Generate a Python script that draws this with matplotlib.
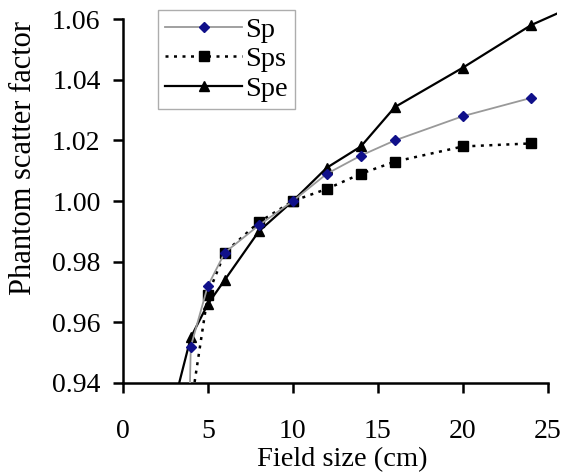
import numpy as np
import matplotlib
matplotlib.use('Agg')
import matplotlib.pyplot as plt

plt.rcParams['font.family'] = ['Liberation Serif', 'DejaVu Serif']

# field sizes (cm) and phantom scatter factors
# first / last entries fall outside the visible axes (lines run off the plot)
sp_x = [3, 4, 5, 6, 8, 10, 12, 14, 16, 20, 24]
sp_y = [0.700, 0.952, 0.972, 0.983, 0.992, 1.000, 1.009, 1.015, 1.020, 1.028, 1.034]

sps_x = [4, 5, 6, 8, 10, 12, 14, 16, 20, 24]
sps_y = [0.932, 0.969, 0.983, 0.993, 1.000, 1.004, 1.009, 1.013, 1.018, 1.019]

spe_x = [3, 4, 5, 6, 8, 10, 12, 14, 16, 20, 24, 27]
spe_y = [0.933, 0.955, 0.966, 0.974, 0.990, 1.000, 1.011, 1.018, 1.031, 1.044, 1.058, 1.0655]

xticks = [0, 5, 10, 15, 20, 25]
yticks = [0.94, 0.96, 0.98, 1.00, 1.02, 1.04, 1.06]

fig = plt.figure(figsize=(5.63, 4.72), dpi=100)
ax = fig.add_axes([0.218, 0.1886, 0.7705, 0.787])

ax.plot(sp_x, sp_y, color='#999999', lw=1.3, marker='D', ms=5,
        mfc='#10108a', mec='#10108a', label='Sp', zorder=4)
ax.plot(sps_x, sps_y, color='black', lw=1.8, ls=(0, (1.2, 2.2)), marker='s', ms=7,
        mfc='black', mec='black', label='Sps', zorder=3)
ax.plot(spe_x, spe_y, color='black', lw=1.6, marker='^', ms=7.5,
        mfc='black', mec='black', label='Spe', zorder=3)

ax.set_xlim(0, 25.5)
ax.set_ylim(0.94, 1.0625)
ax.spines['top'].set_visible(False)
ax.spines['right'].set_visible(False)
ax.spines['left'].set_bounds(0.94, 1.06)
ax.spines['bottom'].set_bounds(0, 25)
ax.spines['left'].set_linewidth(1.8)
ax.spines['bottom'].set_linewidth(1.8)

ax.set_xticks(xticks)
ax.set_yticks(yticks)
ax.set_yticklabels(['%.2f' % v for v in yticks])
ax.tick_params(direction='out', length=7, width=1.8, labelsize=20, colors='black')
ax.tick_params(axis='y', pad=9)
ax.tick_params(axis='x', pad=19)

ax.set_xlabel('Field size (cm)', fontsize=20.5)
ax.xaxis.set_label_coords(0.5055, -0.172)
ax.set_ylabel('Phantom scatter factor', fontsize=22)
ax.yaxis.set_label_coords(-0.196, 0.605)

leg = ax.legend(loc='upper left', bbox_to_anchor=(158 / 563, 1 - 10 / 472),
                bbox_transform=fig.transFigure, borderaxespad=0, fontsize=20.5,
                frameon=True, fancybox=False, edgecolor='#999999',
                handlelength=2.7, handletextpad=0.1, labelspacing=0.12,
                borderpad=0.25)
leg.get_frame().set_linewidth(1.0)

fig.savefig('out.png', dpi=100)
